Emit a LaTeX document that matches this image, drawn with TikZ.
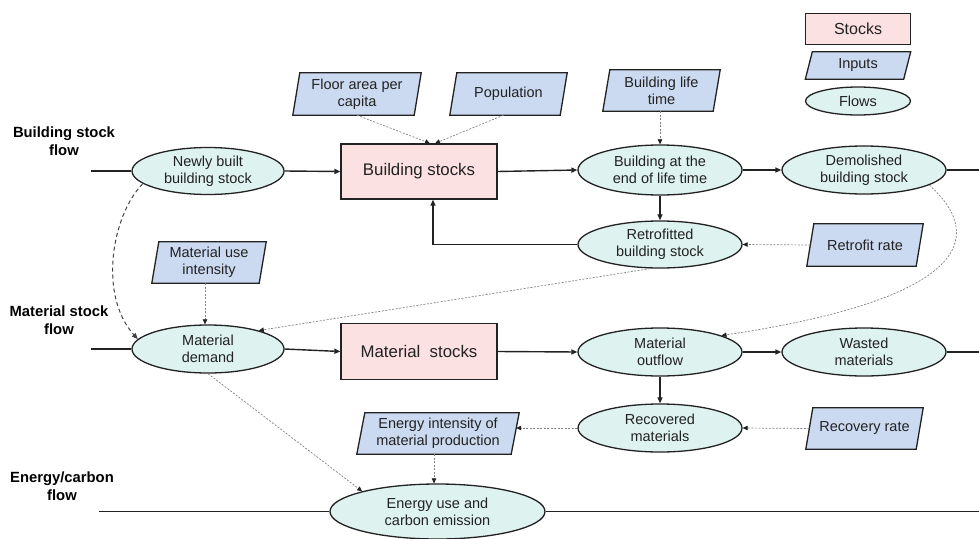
\documentclass[tikz,border=0pt]{standalone}
\usepackage{fontspec}
\setmainfont{Liberation Sans}
\usetikzlibrary{shapes.geometric,arrows.meta,backgrounds}
\definecolor{stockfill}{RGB}{251,225,225}
\definecolor{inputfill}{RGB}{203,218,240}
\definecolor{flowfill}{RGB}{222,242,239}
\definecolor{linecol}{RGB}{34,34,34}
\definecolor{dotcol}{RGB}{130,130,130}
\tikzset{
 txt/.style={font=\fontsize{14.5}{17}\selectfont, align=center, text=linecol, inner sep=0pt},
 flowbox/.style={txt, ellipse, draw=linecol, line width=1.3pt, fill=flowfill},
 stockbox/.style={txt, rectangle, draw=linecol, line width=1.3pt, fill=stockfill, font=\fontsize{16.8}{19}\selectfont},
 inbox/.style={txt, rectangle},
 paral/.style={draw=linecol, line width=1.3pt, fill=inputfill, line join=miter},
 rowlabel/.style={font=\bfseries\fontsize{14.8}{18}\selectfont, align=center, inner sep=0pt},
 main/.style={draw=linecol, line width=1.4pt, -{Triangle[length=6pt,width=5pt]}},
 plain/.style={draw=linecol, line width=1.4pt},
 info/.style={draw=dotcol, line width=0.7pt, dash pattern=on 2pt off 1.5pt, -{Triangle[length=5pt,width=4.5pt,color=linecol]}},
 link/.style={draw=linecol!85, line width=1pt, dash pattern=on 4pt off 3pt, -{Triangle[length=6pt,width=5pt]}},
}
\newcommand\drawpara[2]{%
 \draw[paral] (#1.south west) -- ([xshift=-#2]#1.south east) -- (#1.north east) -- ([xshift=#2]#1.north west) -- cycle;}
\begin{document}
\begin{tikzpicture}[x=1pt,y=-1pt]
\useasboundingbox (0,0) rectangle (979,538);
% legend
\node[stockbox, font=\fontsize{16}{19}\selectfont, minimum width=105, minimum height=31] (lgs) at (858,29) {Stocks};
\node[inbox, minimum width=105, minimum height=27] (lgi) at (858,65.5) {Inputs};
\node[flowbox, minimum width=105, minimum height=28] (lgf) at (858,101) {Flows};
% row labels
\node[rowlabel] (l1) at (64,141) {Building stock\\flow};
\node[rowlabel] (l2) at (59,320) {Material stock\\flow};
\node[rowlabel] (l3) at (62,486) {Energy/carbon\\flow};
% row 1
\node[flowbox, minimum width=152, minimum height=47] (nb) at (208,171) {Newly built\\building stock};
\node[stockbox, minimum width=156, minimum height=55] (bs) at (419,171.5) {Building stocks};
\node[flowbox, minimum width=164, minimum height=50] (eol) at (660,170) {Building at the\\end of life time};
\node[flowbox, minimum width=164, minimum height=48] (dem) at (864,170) {Demolished\\building stock};
\node[flowbox, minimum width=164, minimum height=47] (ret) at (660,244.5) {Retrofitted\\building stock};
% inputs
\node[inbox, minimum width=128, minimum height=42] (fa) at (357,94) {Floor area per\\capita};
\node[inbox, minimum width=117, minimum height=42] (pop) at (508.5,94) {Population};
\node[inbox, minimum width=117, minimum height=41] (blt) at (661.5,90.5) {Building life\\time};
\node[inbox, minimum width=116, minimum height=42] (rr) at (865,245) {Retrofit rate};
\node[inbox, minimum width=114, minimum height=41] (mui) at (209,262.5) {Material use\\intensity};
% row 2
\node[flowbox, minimum width=152, minimum height=48] (md) at (208,349) {Material\\demand};
\node[stockbox, minimum width=156, minimum height=56] (ms) at (419,351.5) {Material\ \ stocks};
\node[flowbox, minimum width=164, minimum height=48] (out) at (660,352) {Material\\outflow};
\node[flowbox, minimum width=164, minimum height=48] (wm) at (864,352) {Wasted\\materials};
\node[flowbox, minimum width=164, minimum height=48] (rec) at (660,428) {Recovered\\materials};
\node[inbox, minimum width=117, minimum height=41] (rcr) at (864.5,428.5) {Recovery rate};
\node[inbox, minimum width=162, minimum height=41] (ei) at (438,433.5) {Energy intensity of\\material production};
% row 3
\node[flowbox, minimum width=215, minimum height=55] (en) at (437.5,511.5) {Energy use and\\carbon emission};
% parallelograms
\begin{pgfonlayer}{background}
\drawpara{lgi}{7}
\drawpara{fa}{7}
\drawpara{pop}{7}
\drawpara{blt}{7}
\drawpara{rr}{7}
\drawpara{mui}{7}
\drawpara{rcr}{7}
\drawpara{ei}{8}
\end{pgfonlayer}
% row lines
\coordinate (s1) at (91,171);
\coordinate (e1) at (979,170);
\coordinate (s2) at (91,349);
\coordinate (e2) at (979,352);
\coordinate (s3) at (99,511.5);
\coordinate (e3) at (979,511.5);
\draw[plain] (s1) -- (nb.west);
\draw[plain] (dem.east) -- (e1);
\draw[plain] (s2) -- (md.west);
\draw[plain] (wm.east) -- (e2);
\draw[plain] (s3) -- (en.west);
\draw[plain] (en.east) -- (e3);
% main flows
\draw[main] (nb.east) -- (bs.west);
\draw[main] (bs.east) -- (eol.west);
\draw[main] (eol.east) -- (dem.west);
\draw[main] (eol.south) -- (ret.north);
\draw[main] (ret.west) -| ([xshift=14]bs.south);
\draw[main] (md.east) -- (ms.west);
\draw[main] (ms.east) -- (out.west);
\draw[main] (out.east) -- (wm.west);
\draw[main] (out.south) -- (rec.north);
% information links
\draw[info] (fa.south) -- ([xshift=11]bs.north);
\draw[info] ([xshift=-5]pop.south) -- ([xshift=16]bs.north);
\draw[info] ([xshift=-1.5]blt.south) -- (eol.north);
\draw[info] ([xshift=3.5]rr.west) -- (ret.east);
\draw[info] ([xshift=3.5]rcr.west) -- (rec.east);
\path (ei.east |- rec.west) ++(-3,0) coordinate (eiR);
\draw[info] (rec.west) -- (eiR);
\draw[info] ([xshift=-4]ei.south) -- ([xshift=-4]ei.south |- en.north);
\draw[info] ([xshift=-4]mui.south) -- ([xshift=-4]mui.south |- md.north);
\draw[info] ([xshift=-10]ret.south) -- (md.20);
\draw[info] (md.south) -- (en.165);
\draw[info] (dem.347) .. controls (990,240) and (960,300) .. (out.15);
\draw[link] (nb.191) .. controls (112,215) and (98,295) .. (md.172);
\end{tikzpicture}
\end{document}
